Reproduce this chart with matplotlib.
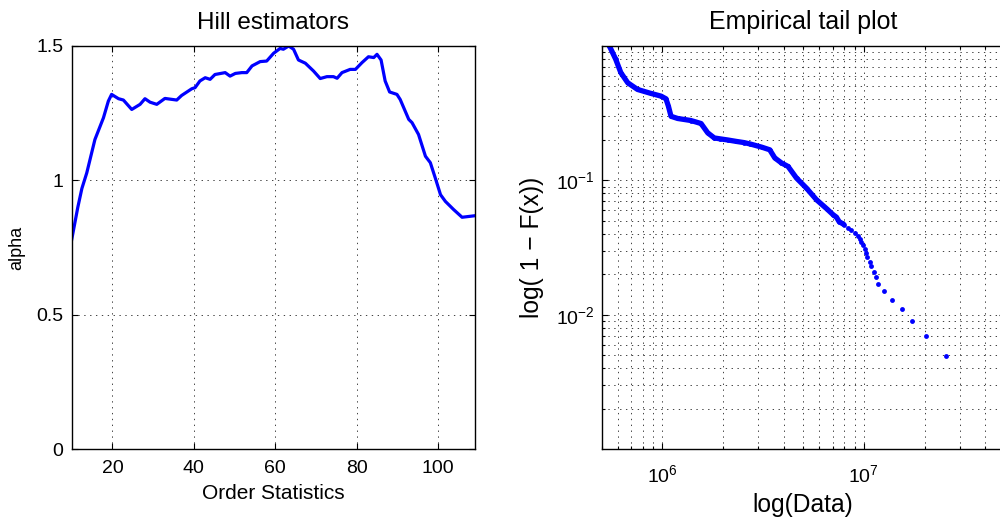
import numpy as np
import matplotlib
matplotlib.use("Agg")
import matplotlib.pyplot as plt
from matplotlib.ticker import LogLocator, NullFormatter, FixedLocator

plt.rcParams['font.family'] = ['Liberation Sans', 'DejaVu Sans']
plt.rcParams['mathtext.fontset'] = 'custom'
plt.rcParams['mathtext.rm'] = 'Liberation Sans'
plt.rcParams['mathtext.it'] = 'Liberation Sans:italic'

# ---- Hill estimators (left) ----
hill_k = [10, 11.5, 12.5, 13.7, 15.7, 17.8, 19.0, 19.8, 21.5, 22.7, 24.75, 26.8, 28.0,
          29.25, 30.9, 32.9, 35.8, 37.0, 39.5, 40.3, 41.5, 42.8, 44.0, 45.2, 47.7,
          48.9, 50.2, 51.8, 53.0, 54.3, 56.3, 57.9, 59.6, 61.2, 62.0, 63.3, 64.5,
          65.7, 67.4, 69.4, 71.05, 72.7, 74.3, 75.2, 76.4, 78.4, 79.7, 81.3, 82.9,
          84.2, 85.0, 86.0, 87.0, 88.1, 89.9, 90.7, 92.8, 93.6, 95.2, 96.9, 98.1,
          99.3, 100.6, 101.8, 103.8, 105.9, 109.2]
hill_alpha = [0.78, 0.90, 0.97, 1.028, 1.152, 1.233, 1.295, 1.32, 1.304, 1.299, 1.264,
              1.283, 1.304, 1.291, 1.283, 1.305, 1.299, 1.316, 1.341, 1.345, 1.370,
              1.382, 1.376, 1.394, 1.401, 1.388, 1.398, 1.401, 1.401, 1.426, 1.442,
              1.444, 1.473, 1.491, 1.488, 1.50, 1.488, 1.448, 1.436, 1.407, 1.379,
              1.386, 1.386, 1.380, 1.401, 1.413, 1.413, 1.438, 1.460, 1.457, 1.469,
              1.448, 1.370, 1.329, 1.320, 1.301, 1.227, 1.215, 1.171, 1.090, 1.066,
              1.010, 0.947, 0.922, 0.892, 0.863, 0.869]
hill_xticks = [20, 40, 60, 80, 100]
hill_yticks = [0, 0.5, 1, 1.5]
hill_yticklabels = ['0', '0.5', '1', '1.5']

# ---- Empirical tail (right) ----
# dense part of the tail (points overlap into a thick trace)
dense_x = [5.46e5, 5.87e5, 6.22e5, 6.73e5, 7.53e5, 8.77e5, 9.84e5, 1.042e6, 1.072e6,
           1.104e6, 1.191e6, 1.387e6, 1.556e6, 1.679e6, 1.811e6, 1.928e6, 2.109e6,
           2.333e6, 2.553e6, 2.716e6, 3.105e6, 3.412e6, 3.614e6, 3.899e6, 4.207e6,
           4.634e6, 5.188e6, 5.821e6, 6.531e6, 7.047e6, 7.311e6, 7.534e6, 7.962e6]
dense_y = [1.00, 0.796, 0.634, 0.533, 0.475, 0.444, 0.424, 0.405, 0.356, 0.300, 0.289,
           0.279, 0.265, 0.226, 0.207, 0.204, 0.200, 0.195, 0.191, 0.187, 0.177, 0.169,
           0.147, 0.135, 0.127, 0.104, 0.0877, 0.0718, 0.0617, 0.0555, 0.0533, 0.0494,
           0.0470]
# sparse extreme points
sparse_x = [8.30e6, 8.61e6, 8.99e6, 9.38e6, 9.59e6, 9.70e6, 9.93e6, 1.009e7, 1.021e7,
            1.033e7, 1.067e7, 1.091e7, 1.117e7, 1.143e7, 1.169e7, 1.262e7, 1.374e7,
            1.538e7, 1.726e7, 2.028e7, 2.564e7]
sparse_y = [0.0446, 0.0428, 0.0409, 0.0389, 0.0367, 0.0351, 0.0330, 0.0309, 0.0289,
            0.0270, 0.0249, 0.0230, 0.0210, 0.0190, 0.0169, 0.0150, 0.0130, 0.0110,
            0.00893, 0.00697, 0.00498]
tail_xticks = [1e6, 1e7]
tail_yticks = [1e-2, 1e-1]

W, H = 1000, 519
fig = plt.figure(figsize=(W / 100, H / 100), dpi=100)

bottom = 1 - 449.3 / H
height = (449.3 - 46.0) / H
axw = 403.0 / W

gridkw = dict(color='0.2', linestyle=(0, (1.5, 5)), linewidth=0.65)

# Left axes
ax1 = fig.add_axes([71.7 / W, bottom, axw, height])
ax1.plot(hill_k, hill_alpha, color=(0, 0, 1), linewidth=2.3, solid_joinstyle='round')
ax1.set_xlim(10, 109)
ax1.set_ylim(0, 1.5)
ax1.set_xticks(hill_xticks)
ax1.set_yticks(hill_yticks)
ax1.set_yticklabels(hill_yticklabels)
ax1.grid(True, which='major', **gridkw)
ax1.tick_params(direction='in', top=True, right=True, length=4, width=0.8,
                labelsize=14)
ax1.tick_params(axis='x', pad=8)
ax1.tick_params(axis='y', pad=6)
ax1.set_title('Hill estimators', fontsize=17.5, pad=12)
ax1.set_xlabel('Order Statistics', fontsize=15, labelpad=5)
ax1.set_ylabel('alpha', fontsize=13, labelpad=8)

# Right axes (extends slightly past figure edge as in the reference)
ax2 = fig.add_axes([601.7 / W, bottom, axw, height])
ax2.set_xscale('log')
ax2.set_yscale('log')
ax2.plot(dense_x, dense_y, color=(0, 0, 1), linewidth=3.8, solid_capstyle='round',
         solid_joinstyle='round', marker='o', markersize=3.4, markeredgewidth=0)
ax2.plot(sparse_x, sparse_y, linestyle='none', color=(0, 0, 1), marker='o',
         markersize=3.5, markeredgewidth=0)
ax2.set_xlim(5e5, 5e7)
ax2.set_ylim(1e-3, 1.0)
ax2.xaxis.set_major_locator(FixedLocator(tail_xticks))
ax2.yaxis.set_major_locator(FixedLocator(tail_yticks))
ax2.xaxis.set_minor_locator(LogLocator(base=10, subs=np.arange(2, 10), numticks=20))
ax2.yaxis.set_minor_locator(LogLocator(base=10, subs=np.arange(2, 10), numticks=20))
ax2.xaxis.set_minor_formatter(NullFormatter())
ax2.yaxis.set_minor_formatter(NullFormatter())
ax2.grid(True, which='both', **gridkw)
ax2.tick_params(which='both', direction='in', top=True, right=True, width=0.8)
ax2.tick_params(which='major', length=4, labelsize=14)
ax2.tick_params(which='minor', length=2)
ax2.tick_params(axis='x', which='major', pad=11)
ax2.tick_params(axis='y', which='major', pad=5)
ax2.set_title('Empirical tail plot', fontsize=18, pad=12)
ax2.set_xlabel('log(Data)', fontsize=17.7, labelpad=5)
ax2.set_ylabel('log( 1 \u2212 F(x))', fontsize=17.7, labelpad=9)

for ax in (ax1, ax2):
    for s in ax.spines.values():
        s.set_linewidth(1.0)
    ax.set_axisbelow(True)

fig.savefig('out.png', dpi=100)
